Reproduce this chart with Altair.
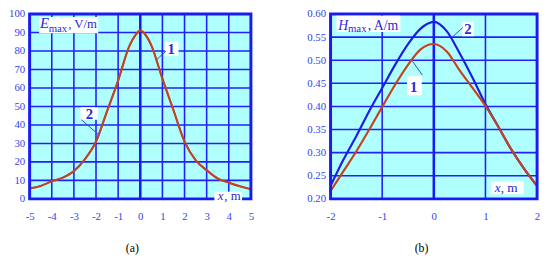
import altair as alt
import pandas as pd

# ---------------- data ----------------
# Panel (a): E_max (V/m) versus x (m); curves 1 and 2 practically coincide
xa = [-5, -4.5, -4, -3.5, -3, -2.5, -2, -1.5, -1, -0.5, -0.25, 0, 0.25, 0.5, 1, 1.5, 2, 2.5, 3, 3.5, 4, 4.5, 5]
ea_1 = [5.7, 7.0, 9.5, 11.5, 15.0, 21.5, 31.0, 47.5, 64.0, 82.5, 88.0, 91.0, 88.5, 83.0, 65.0, 48.0, 31.0, 21.0, 15.5, 11.0, 8.8, 6.8, 5.2]
ea_2 = [5.7, 7.0, 9.5, 11.5, 15.0, 21.5, 31.0, 47.5, 64.0, 82.5, 88.0, 91.0, 88.5, 83.0, 65.0, 48.0, 31.0, 21.0, 15.5, 11.0, 8.8, 6.8, 5.2]

# Panel (b): H_max (A/m) versus x (m)
xb = [-2, -1.75, -1.5, -1.25, -1, -0.75, -0.5, -0.25, 0, 0.25, 0.5, 0.75, 1, 1.25, 1.5, 1.75, 2]
hb_1 = [0.217, 0.260, 0.303, 0.350, 0.399, 0.447, 0.490, 0.524, 0.535, 0.519, 0.478, 0.440, 0.401, 0.356, 0.307, 0.265, 0.228]
hb_2 = [0.228, 0.285, 0.336, 0.390, 0.440, 0.490, 0.535, 0.569, 0.583, 0.563, 0.515, 0.462, 0.405, 0.356, 0.307, 0.265, 0.228]

xa_ticks = [-5, -4, -3, -2, -1, 0, 1, 2, 3, 4, 5]
ya_ticks = [0, 10, 20, 30, 40, 50, 60, 70, 80, 90, 100]
xb_ticks = [-2, -1, 0, 1, 2]
yb_ticks = [0.20, 0.25, 0.30, 0.35, 0.40, 0.45, 0.50, 0.55, 0.60]

# ---------------- style ----------------
FONT = "Liberation Serif"
BG = "#b0ffff"
GRID = "#2020ff"
FRAME = "#1a1af5"
RED = "#c2441c"
BLUE = "#1c1ce8"
TICK = "#3345f2"
ANN = "#2a2ad8"


def panel(xdom, ydom, xticks, yticks, yfmt, title, title_x, w, h,
          curves, boxes, leaders, texts):
    xs = alt.Scale(domain=xdom, nice=False, zero=False)
    ys = alt.Scale(domain=ydom, nice=False, zero=False)
    xaxis = alt.Axis(values=xticks, title=title,
                     labelExpr="replace(datum.label, '\u2212', '-')",
                     domain=False, ticks=False, grid=False, labelFlush=False,
                     labelOverlap=False, labelFont=FONT, labelFontSize=11,
                     labelColor=TICK, labelPadding=12,
                     titleFont=FONT, titleFontSize=12, titleFontWeight="normal",
                     titleColor="black", titleX=title_x, titleY=50,
                     titleAlign="center", titleBaseline="middle")
    yaxis = alt.Axis(values=yticks, format=yfmt, title=None,
                     domain=False, ticks=False, grid=False, labelOverlap=False,
                     labelFont=FONT, labelFontSize=11, labelColor=TICK,
                     labelPadding=5)

    def X(f):
        return alt.X(f, type="quantitative", scale=xs, axis=xaxis)

    def Y(f):
        return alt.Y(f, type="quantitative", scale=ys, axis=yaxis)

    frame_df = pd.DataFrame({"x": [xdom[0]], "x2": [xdom[1]], "y": [ydom[0]], "y2": [ydom[1]]})
    layers = []
    layers.append(alt.Chart(frame_df).mark_rect(fill=BG).encode(
        x=X("x"), x2="x2", y=Y("y"), y2="y2"))
    vg = pd.DataFrame({"x": [t for t in xticks if t != 0], "y": ydom[0], "y2": ydom[1]})
    layers.append(alt.Chart(vg).mark_rule(color=GRID, strokeWidth=1.6).encode(
        x=X("x"), y=Y("y"), y2="y2"))
    hg = pd.DataFrame({"y": yticks, "x": xdom[0], "x2": xdom[1]})
    layers.append(alt.Chart(hg).mark_rule(color=GRID, strokeWidth=1.6).encode(
        y=Y("y"), x=X("x"), x2="x2"))
    zl = pd.DataFrame({"x": [0], "y": ydom[0], "y2": ydom[1]})
    layers.append(alt.Chart(zl).mark_rule(color=FRAME, strokeWidth=2.6).encode(
        x=X("x"), y=Y("y"), y2="y2"))
    for xv, yv, col, sw in curves:
        cdf = pd.DataFrame({"x": xv, "v": yv})
        layers.append(alt.Chart(cdf).mark_line(color=col, strokeWidth=sw,
                                               interpolate="monotone").encode(
            x=X("x"), y=Y("v")))
    layers.append(alt.Chart(frame_df).mark_rect(fillOpacity=0, stroke=FRAME,
                                                strokeWidth=3).encode(
        x=X("x"), x2="x2", y=Y("y"), y2="y2"))
    bdf = pd.DataFrame(boxes, columns=["x", "x2", "y", "y2"])
    layers.append(alt.Chart(bdf).mark_rect(fill="white").encode(
        x=X("x"), x2="x2", y=Y("y"), y2="y2"))
    ldf = pd.DataFrame(leaders, columns=["x", "x2", "y", "y2"])
    layers.append(alt.Chart(ldf).mark_rule(color="#3050c0", strokeWidth=1).encode(
        x=X("x"), x2="x2", y=Y("y"), y2="y2"))
    for (tx, ty, txt, size, style, weight, align, base) in texts:
        tdf = pd.DataFrame({"x": [tx], "y": [ty], "t": [txt]})
        layers.append(alt.Chart(tdf).mark_text(
            font=FONT, fontSize=size, fontStyle=style, fontWeight=weight,
            align=align, baseline=base, color=ANN).encode(
            x=X("x"), y=Y("y"), text="t:N"))
    return alt.layer(*layers).properties(width=w, height=h)


left = panel(
    [-5, 5], [0, 100], xa_ticks, ya_ticks, "d", "(a)", 104, 225, 188,
    curves=[(xa, ea_2, BLUE, 1.4), (xa, ea_1, RED, 2.2)],
    boxes=[(-4.57, -1.90, 98.4, 89.6), (1.11, 1.73, 84.9, 77.4),
           (-2.70, -1.92, 49.5, 42.8), (3.35, 4.60, 3.9, -1.2)],
    leaders=[(0.72, 1.16, 75.1, 79.9), (-2.66, -1.89, 42.8, 34.8)],
    texts=[(-4.53, 92.6, "E", 15, "italic", "normal", "left", "alphabetic"),
           (-4.14, 90.3, "max", 11, "normal", "normal", "left", "alphabetic"),
           (-3.26, 92.6, ", V/m", 13, "normal", "normal", "left", "alphabetic"),
           (1.40, 81.2, "1", 15, "normal", "bold", "center", "middle"),
           (-2.30, 46.1, "2", 15, "normal", "bold", "center", "middle"),
           (3.50, 1.4, "x", 13, "italic", "normal", "left", "middle"),
           (3.80, 1.4, ", m", 13, "normal", "normal", "left", "middle")],
)

right = panel(
    [-2, 2], [0.2, 0.6], xb_ticks, yb_ticks, ".2f", "(b)", 92, 210, 188,
    curves=[(xb, hb_2, BLUE, 2.2), (xb, hb_1, RED, 2.2)],
    boxes=[(-1.886, -0.648, 0.596, 0.561), (-0.52, -0.234, 0.466, 0.424),
           (0.547, 0.775, 0.583, 0.552), (1.105, 1.739, 0.238, 0.210)],
    leaders=[(-0.413, -0.223, 0.4975, 0.468), (0.356, 0.566, 0.550, 0.571)],
    texts=[(-1.853, 0.5663, "H", 14, "italic", "normal", "left", "alphabetic"),
           (-1.663, 0.5621, "max", 11, "normal", "normal", "left", "alphabetic"),
           (-1.282, 0.5663, ", A/m", 14, "normal", "normal", "left", "alphabetic"),
           (-0.390, 0.4421, "1", 15, "normal", "bold", "center", "middle"),
           (0.661, 0.5674, "2", 15, "normal", "bold", "center", "middle"),
           (1.181, 0.2232, "x", 13.5, "italic", "normal", "left", "middle"),
           (1.295, 0.2232, ", m", 13.5, "normal", "normal", "left", "middle")],
)

chart = alt.hconcat(left, right, spacing=81, bounds="flush").properties(
    padding={"left": 0, "top": -3, "right": 0, "bottom": 0}
).configure_view(stroke=None).configure(background="white")

chart.save("out.html", embed_options={"renderer": "svg", "actions": False})
